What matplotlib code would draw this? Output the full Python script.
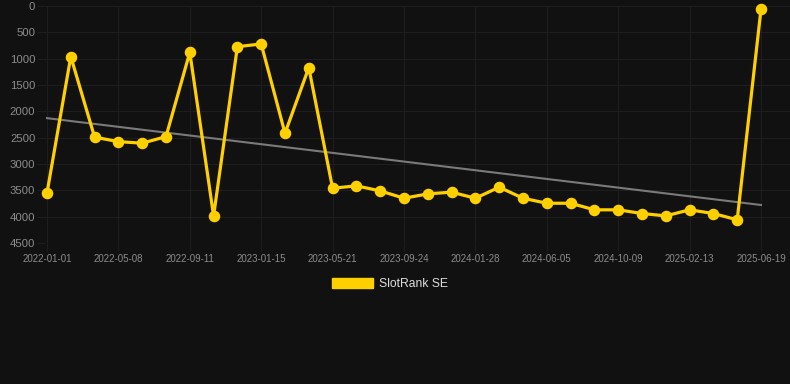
import numpy as np
import matplotlib
matplotlib.use("Agg")
import matplotlib.pyplot as plt
from matplotlib.patches import Patch

plt.rcParams['font.family'] = ['Liberation Sans', 'DejaVu Sans']

ranks = [3550, 960, 2490, 2575, 2605, 2480, 880, 3985, 772, 721, 2416, 1170,
         3460, 3415, 3510, 3650, 3567, 3535, 3650, 3440, 3650, 3745, 3745, 3870,
         3870, 3940, 3985, 3870, 3940, 4060, 63]
tick_labels = ["2022-01-01", "2022-05-08", "2022-09-11", "2023-01-15", "2023-05-21",
               "2023-09-24", "2024-01-28", "2024-06-05", "2024-10-09", "2025-02-13",
               "2025-06-19"]
series_name = "SlotRank SE"

W, H = 790, 384
fig = plt.figure(figsize=(W / 100, H / 100), dpi=100)
fig.patch.set_facecolor("#111111")

x0, x1 = 45, 790
y_top, y_bot = 6, 243
ax = fig.add_axes([x0 / W, 1 - y_bot / H, (x1 - x0) / W, (y_bot - y_top) / H])
ax.set_facecolor("#111111")

x = np.arange(len(ranks))
step = 23.8
ax.set_xlim(-(47 - x0) / step, (x1 - 47) / step)
ax.set_ylim(4500, 0)

grid_c = "#1e1e1e"
ax.set_yticks(np.arange(0, 4501, 500))
ax.set_yticklabels([str(v) for v in range(0, 4501, 500)])
ax.set_xticks(x[::3])
ax.set_xticklabels(tick_labels)
ax.grid(True, color=grid_c, linewidth=0.8)
ax.set_axisbelow(True)
for s in ax.spines.values():
    s.set_visible(False)
ax.tick_params(axis='y', colors=grid_c, labelcolor="#8c8c8c", labelsize=8.2,
               length=6, width=0.8, pad=1)
ax.tick_params(axis='x', colors=grid_c, labelcolor="#8c8c8c", labelsize=7,
               length=6, width=0.8, pad=2)

# trend line (least squares)
coef = np.polyfit(x, ranks, 1)
ax.plot(x, np.polyval(coef, x), color="#7a7a7a", linewidth=1.5, zorder=2)

ax.plot(x, ranks, color="#FFD000", linewidth=2.3, marker="o", markersize=7.3,
        markerfacecolor="#FFD000", markeredgecolor="#FFD000", zorder=3,
        clip_on=False)

handle = Patch(facecolor="#FFD000", edgecolor="#FFD000")
leg = fig.legend([handle], [series_name], loc="center",
                 bbox_to_anchor=(390 / W, 1 - 284 / H), frameon=False,
                 fontsize=8.7, handlelength=3.4, handleheight=0.9,
                 handletextpad=0.5, labelcolor="#dddddd")

fig.savefig("out.png", dpi=100, facecolor=fig.get_facecolor())
